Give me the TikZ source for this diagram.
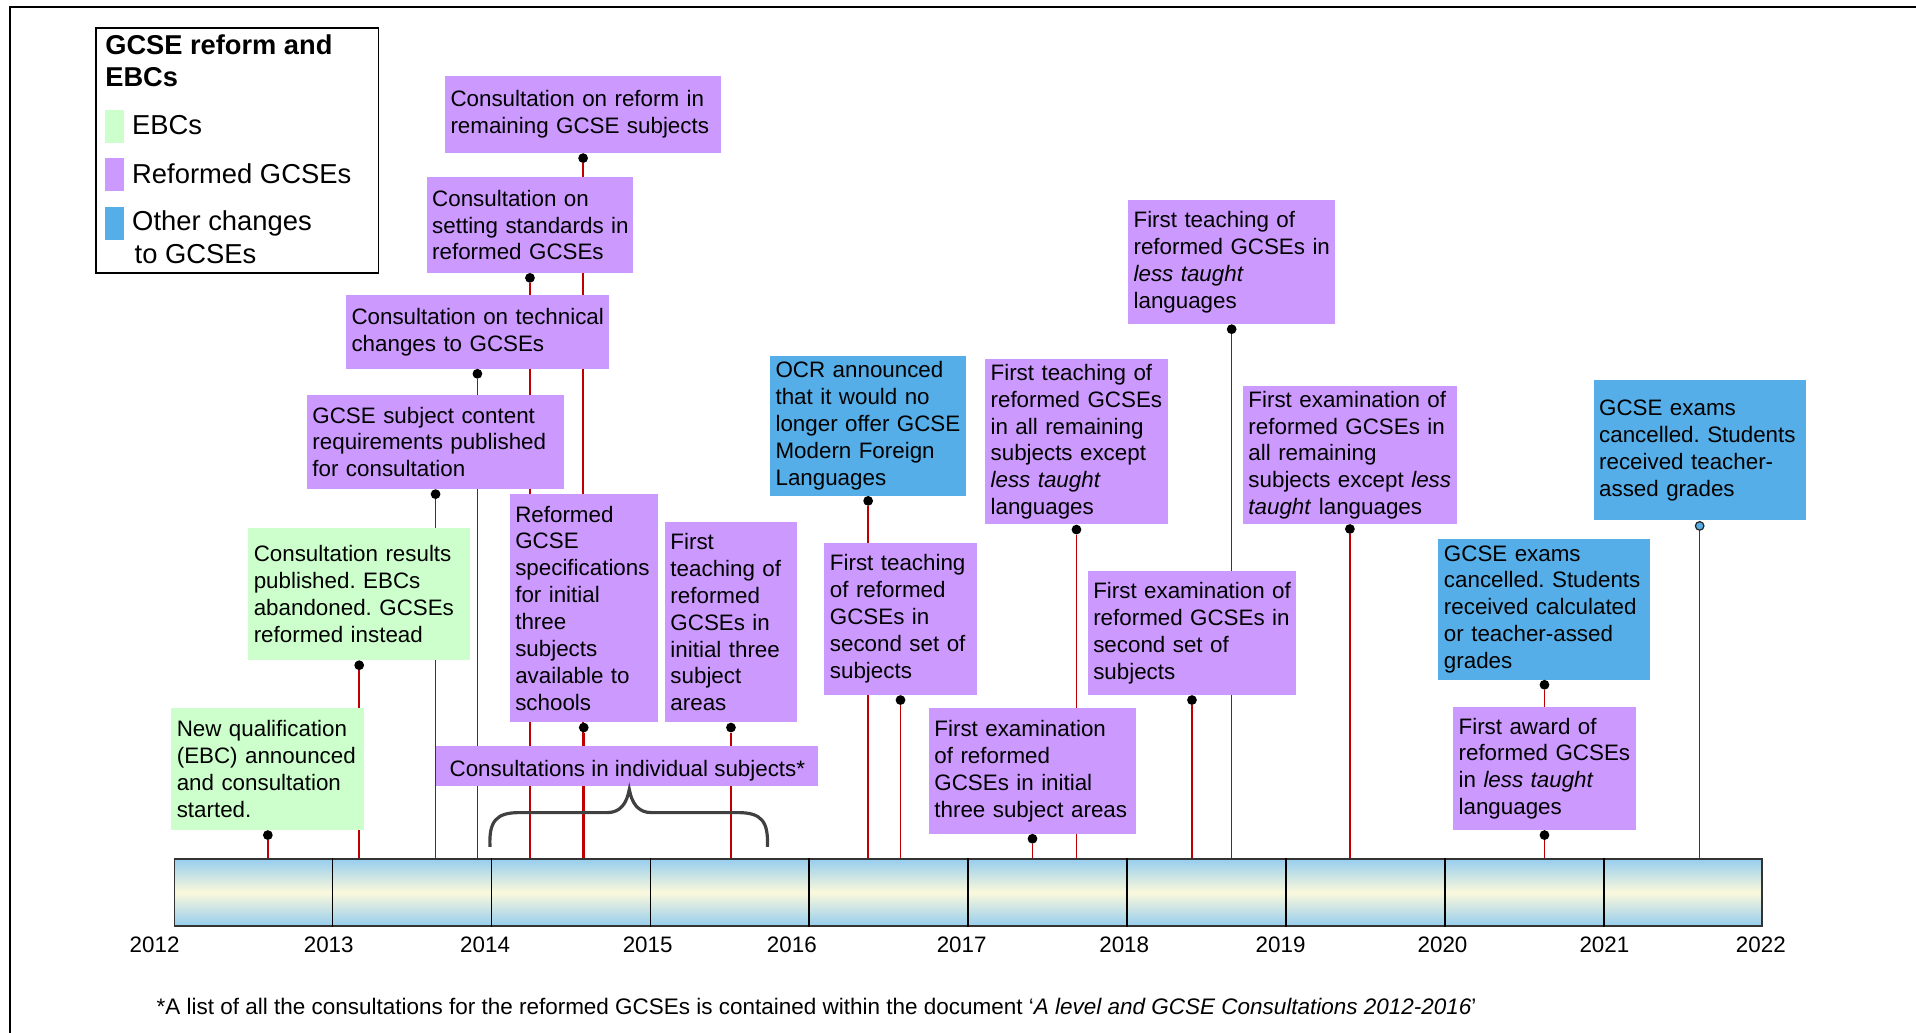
\documentclass[tikz,border=0pt]{standalone}
\usepackage{fontspec}
\setmainfont{Liberation Sans}
\usetikzlibrary{calc}
\frenchspacing

\definecolor{ebcgreen}{HTML}{CCFFCC}
\definecolor{gcsepurple}{HTML}{CC99FF}
\definecolor{otherblue}{HTML}{56AEE8}
\definecolor{stemred}{HTML}{C00000}
\definecolor{barblue}{HTML}{96CDEE}
\definecolor{barcream}{HTML}{FBF9DC}
\definecolor{bracegray}{HTML}{404040}

\pgfdeclarelayer{stems}
\pgfsetlayers{stems,main}

\newcommand\evfont{\fontsize{18.3}{22}\selectfont}
\newcommand\legfont{\fontsize{22.4}{27}\selectfont}
\newcommand\legtitlefont{\bfseries\fontsize{22.3}{26}\selectfont}

% event box: name, x1, y1, x2, y2, fill colour, text (left aligned, vertically centred)
\newcommand\evbox[7]{%
  \pgfmathsetmacro\evw{#4-#2}%
  \pgfmathsetmacro\evh{#5-#3}%
  \pgfmathsetmacro\evtw{#4-#2-2}%
  \node[evt, fill=#6, minimum width=\evw pt, minimum height=\evh pt, text width=\evtw pt]
    (#1) at (#2,#3) {\leftskip=3.5pt\relax #7\par};}

\begin{document}
\begin{tikzpicture}[x=1pt,y=-1pt,
  evt/.style={rectangle, anchor=north west, inner xsep=1pt, inner ysep=0pt,
              align=left, font=\evfont},
  pin dot/.style={circle, fill=black, inner sep=0pt, minimum size=8pt},
  open dot/.style={circle, fill=otherblue, draw=black!85, line width=1pt,
                   inner sep=0pt, minimum size=7pt},
  stem/.style={draw=stemred, line width=1.3pt},
  timebar/.style={rectangle, anchor=north west, draw=black!80, line width=1.6pt,
                  minimum width=1299pt, minimum height=55pt, inner sep=0pt,
                  top color=barblue, bottom color=barblue, middle color=barcream},
  divider/.style={draw=black, line width=1.2pt},
  yearlab/.style={font=\evfont, inner sep=0pt},
  bracepen/.style={draw=bracegray, line width=2.6pt},
  legendbox/.style={rectangle, anchor=north west, draw=black, line width=1.4pt,
                    minimum width=231pt, minimum height=201pt, inner sep=0pt},
  swatch/.style={rectangle, anchor=north west, inner sep=0pt,
                 minimum width=15.5pt, minimum height=27pt},
  legtext/.style={anchor=west, inner sep=0pt, align=left, font=\legfont}]

\useasboundingbox (0,0) rectangle (1568,845);

% outer frame (only its top and left edges fall inside the page)
\draw[line width=1.6pt] (8,846) -- (8,6) -- (1569,6);

% legend
\node[legendbox] (legend) at (78,22) {};
\node[anchor=west, inner sep=0pt, align=left, font=\legtitlefont] (legtitle) at (86,50)
  {GCSE reform and\\EBCs};
\node[swatch, fill=ebcgreen]   (swg) at (86,90)  {};
\node[swatch, fill=gcsepurple] (swp) at (86,129.5) {};
\node[swatch, fill=otherblue]  (swb) at (86,169) {};
\node[legtext] (lg) at (108,102) {EBCs};
\node[legtext] (lp) at (108,142) {Reformed GCSEs};
\node[legtext] (lb) at (108,194.5) {Other changes\\\hspace*{2pt}to GCSEs};

% time line
\node[timebar] (bar) at (142,702) {};
\foreach \i in {1,...,9}
  \draw[divider] ($(bar.north west)!\i/10!(bar.north east)$)
              -- ($(bar.south west)!\i/10!(bar.south east)$);
\foreach \yr/\xx in {2012/126.5, 2013/269, 2014/397, 2015/530, 2016/648,
                     2017/787, 2018/920, 2019/1048, 2020/1180.5, 2021/1313, 2022/1441}
  \node[yearlab] (y\yr) at (\xx,773) {\yr};

% events
\evbox{b1}{140}{579}{298}{679}{ebcgreen}{New qualification\\(EBC) announced\\and consultation\\started.}
\evbox{b2}{203}{432}{384.5}{540}{ebcgreen}{Consultation results\\published. EBCs\\abandoned. GCSEs\\reformed instead}
\evbox{b3}{251}{323}{461.5}{400}{gcsepurple}{GCSE subject content\\requirements published\\for consultation}
\evbox{b4}{283}{241.5}{498}{301.5}{gcsepurple}{Consultation on technical\\changes to GCSEs}
\evbox{b5}{349}{145}{518}{223}{gcsepurple}{Consultation on\\setting standards in\\reformed GCSEs}
\evbox{b6}{364}{62}{590}{125}{gcsepurple}{Consultation on reform in\\remaining GCSE subjects}
\evbox{b7}{417}{404}{538}{591}{gcsepurple}{Reformed\\GCSE\\specifications\\for initial\\three\\subjects\\available to\\schools}
\evbox{b8}{544}{427}{652}{591}{gcsepurple}{First\\teaching of\\reformed\\GCSEs in\\initial three\\subject\\areas}
\node[rectangle, anchor=north west, inner sep=0pt, fill=gcsepurple, font=\evfont,
      minimum width=312.5pt, minimum height=33pt, text height=18pt, text depth=0pt]
  (b9) at (357,610) {Consultations in individual subjects*};
\evbox{b10}{630}{291}{790.5}{405.5}{otherblue}{OCR announced\\that it would no\\longer offer GCSE\\Modern Foreign\\Languages}
\evbox{b11}{674.5}{444}{799}{568.5}{gcsepurple}{First teaching\\of reformed\\GCSEs in\\second set of\\subjects}
\evbox{b12}{806}{293.5}{955.5}{429}{gcsepurple}{First teaching of\\reformed GCSEs\\in all remaining\\subjects except\\\textit{less taught}\\languages}
\evbox{b13}{760}{579.5}{929.5}{682}{gcsepurple}{First examination\\of reformed\\GCSEs in initial\\three subject areas}
\evbox{b14}{923}{163.5}{1092.5}{265}{gcsepurple}{First teaching of\\reformed GCSEs in\\\textit{less taught}\\languages}
\evbox{b15}{890}{467}{1060.5}{568.5}{gcsepurple}{First examination of\\reformed GCSEs in\\second set of\\subjects}
\evbox{b16}{1017}{316}{1192}{428.5}{gcsepurple}{First examination of\\reformed GCSEs in\\all remaining\\subjects except \textit{less}\\\textit{taught} languages}
\evbox{b17}{1177}{441}{1350.5}{556}{otherblue}{GCSE exams\\cancelled. Students\\received calculated\\or teacher-assed\\grades}
\evbox{b18}{1189}{578.5}{1338.5}{679}{gcsepurple}{First award of\\reformed GCSEs\\in \textit{less taught}\\languages}
\evbox{b19}{1304}{311}{1477.5}{425.5}{otherblue}{GCSE exams\\cancelled. Students\\received teacher-\\assed grades}

% pins under the boxes
\foreach \b in {b1,b2,b3,b4,b5,b6,b7,b8,b10,b11,b12,b13,b14,b15,b16,b17,b18}
  \node[pin dot] (d\b) at ([yshift=-4pt]\b.south) {};
\node[open dot] (db19) at ([yshift=-4.5pt]b19.south) {};

% stems from each pin down to the time line, behind the boxes
\begin{pgfonlayer}{stems}
  \foreach \b in {b1,b2,b3,b4,b5,b6,b7,b8,b10,b11,b12,b13,b14,b15,b16,b17,b18,b19}
    \draw[stem] (d\b) -- (d\b |- bar.north);
\end{pgfonlayer}

% brace under the consultations box
\draw[bracepen] (401,693) .. controls (400,672) and (406,665) .. (425,665)
  -- (497,665) .. controls (508,665) and (513,657) .. (515,646)
  .. controls (517,657) and (522,665) .. (533,665)
  -- (604,665) .. controls (623,665) and (629,672) .. (628,693);

% footnote
\node[anchor=west, inner sep=0pt, font=\fontsize{18.4}{22}\selectfont] (note) at (128,824)
  {*A list of all the consultations for the reformed GCSEs is contained within the document ‘\textit{A level and GCSE Consultations 2012-2016}’};

\end{tikzpicture}
\end{document}
